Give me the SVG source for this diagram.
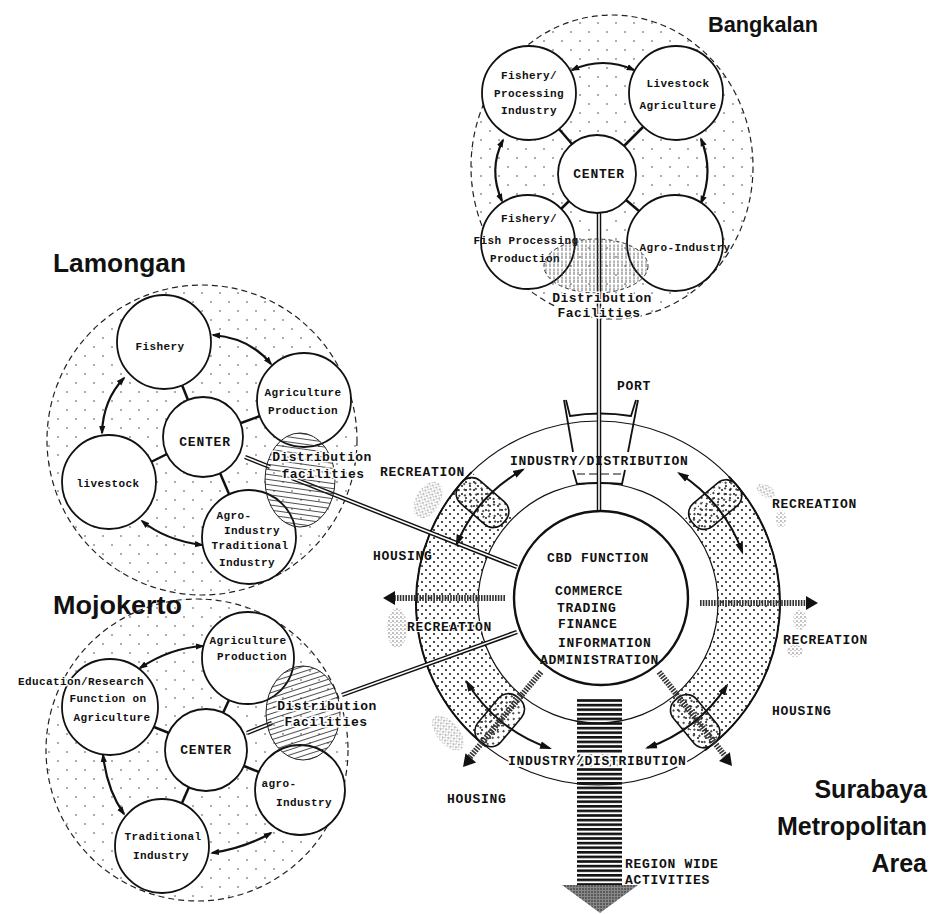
<svg xmlns="http://www.w3.org/2000/svg" width="933" height="914" viewBox="0 0 933 914">
<style>
.t{font-family:"Liberation Mono","DejaVu Sans Mono",monospace;font-size:13px;font-weight:bold;letter-spacing:0.7px;fill:#111}
.n{font-family:"Liberation Mono","DejaVu Sans Mono",monospace;font-size:11px;font-weight:bold;letter-spacing:0.4px;text-anchor:middle;fill:#111}
.c{font-family:"Liberation Mono","DejaVu Sans Mono",monospace;font-size:13px;font-weight:bold;letter-spacing:0.8px;text-anchor:middle;fill:#111}
.d{font-family:"Liberation Mono","DejaVu Sans Mono",monospace;font-size:13px;font-weight:bold;letter-spacing:0.5px;text-anchor:middle;fill:#111;stroke:#fff;stroke-width:3;paint-order:stroke}
.b{font-family:"Liberation Sans",Arial,sans-serif;font-weight:bold;fill:#111}
.node{fill:#fff;stroke:#111;stroke-width:1.8}
.region{stroke:#222;stroke-width:1.2;stroke-dasharray:6 4}
.stub{stroke:#111;stroke-width:2.5;fill:none}
.arc{fill:none;stroke:#111;stroke-width:2.2;marker-start:url(#ah);marker-end:url(#ah)}
.rarr{fill:none;stroke:#111;stroke-width:2;marker-start:url(#ahL);marker-end:url(#ahL)}
.dbl{fill:none;stroke:#111;stroke-width:4.5}
.dbl2{fill:none;stroke:#fff;stroke-width:1.6}
.ring{fill:none;stroke:#111;stroke-width:1.2}
.edge{fill:none;stroke:#111;stroke-width:2}
.pill{fill:url(#stip);stroke:#111;stroke-width:1.6}
.hb{fill:none;stroke:#333;stroke-width:6;stroke-dasharray:1.6 1.2}
.rec{fill:url(#speck)}
.hatch{stroke:#222;stroke-width:1}
</style>
<defs>
<marker id="ah" viewBox="0 0 10 10" refX="8" refY="5" markerWidth="9" markerHeight="9" markerUnits="userSpaceOnUse" orient="auto-start-reverse"><path d="M0,1.5 L10,5 L0,8.5 z" fill="#111"/></marker>
<marker id="ahL" viewBox="0 0 10 10" refX="8" refY="5" markerWidth="12" markerHeight="12" markerUnits="userSpaceOnUse" orient="auto-start-reverse"><path d="M0,1.8 L10,5 L0,8.2 z" fill="#111"/></marker>
<pattern id="dots" width="18" height="18" patternUnits="userSpaceOnUse"><circle cx="4" cy="5" r="0.8" fill="#444"/><circle cx="13" cy="14" r="0.8" fill="#444"/></pattern>
<pattern id="stip" width="8" height="8" patternUnits="userSpaceOnUse"><circle cx="2" cy="2" r="1" fill="#111"/><circle cx="6" cy="6" r="1" fill="#111"/></pattern>
<pattern id="hatchH" width="8" height="5" patternUnits="userSpaceOnUse" patternTransform="rotate(8)"><line x1="0" y1="2.5" x2="8" y2="2.5" stroke="#222" stroke-width="0.8"/></pattern>
<pattern id="hatchM" width="8" height="5" patternUnits="userSpaceOnUse" patternTransform="rotate(-18)"><line x1="0" y1="2.5" x2="8" y2="2.5" stroke="#222" stroke-width="0.8"/></pattern>
<pattern id="hatchV" width="4" height="8" patternUnits="userSpaceOnUse"><line x1="2" y1="0" x2="2" y2="8" stroke="#444" stroke-width="0.8" stroke-dasharray="3 1.5"/></pattern>
<pattern id="speck" width="4" height="4" patternUnits="userSpaceOnUse"><circle cx="1" cy="1" r="0.7" fill="#555"/><circle cx="3" cy="2.6" r="0.6" fill="#888"/></pattern>
<pattern id="stripes" width="8" height="4.6" patternUnits="userSpaceOnUse"><rect width="8" height="2.6" fill="#111"/></pattern>
<pattern id="darkspeck" width="3" height="3" patternUnits="userSpaceOnUse"><rect width="3" height="3" fill="#888"/><circle cx="1" cy="1" r="0.8" fill="#222"/></pattern>
</defs>
<rect width="933" height="914" fill="#fff"/>

<!-- Region backgrounds -->
<g id="bangkalan-region"><ellipse class="region" cx="612" cy="167" rx="141" ry="152" fill="url(#dots)"/></g>
<g id="lamongan-region"><circle class="region" cx="202" cy="440" r="155" fill="url(#dots)"/></g>
<g id="mojokerto-region"><circle class="region" cx="197" cy="750" r="151" fill="url(#dots)"/></g>

<!-- Surabaya ring -->
<g id="surabaya-ring">
<path d="M485.9,746.4 A182,182 0 0 1 471.6,472.1 L514.6,516.7 A120,120 0 0 0 524.1,697.6 Z" fill="url(#stip)"/>
<path d="M728.9,476.6 A182,182 0 0 1 705.0,750.2 L668.5,700.1 A120,120 0 0 0 684.3,519.6 Z" fill="url(#stip)"/>
<circle class="ring" cx="598" cy="603" r="182"/>
<circle class="ring" cx="598" cy="603" r="120"/>
<path class="edge" d="M485.9,746.4 A182,182 0 0 1 471.6,472.1"/>
<path class="edge" d="M728.9,476.6 A182,182 0 0 1 705.0,750.2"/>
<rect class="pill" x="-29" y="-15" width="58" height="30" rx="13" transform="translate(482.5,502.6) rotate(221)"/>
<rect class="pill" x="-29" y="-15" width="58" height="30" rx="13" transform="translate(715.2,504.6) rotate(-40)"/>
<rect class="pill" x="-29" y="-15" width="58" height="30" rx="13" transform="translate(499.7,720.2) rotate(130)"/>
<rect class="pill" x="-29" y="-15" width="58" height="30" rx="13" transform="translate(695.2,721.2) rotate(50.6)"/>
</g>

<!-- Recreation blobs -->
<g id="recreation-areas">
<ellipse class="rec" cx="428" cy="500" rx="12" ry="20" transform="rotate(30 428 500)"/>
<ellipse class="rec" cx="397" cy="628" rx="10" ry="20"/>
<ellipse class="rec" cx="448" cy="733" rx="11" ry="21" transform="rotate(-40 448 733)"/>
<ellipse class="rec" cx="766" cy="491" rx="10" ry="6" transform="rotate(30 766 491)"/>
<ellipse class="rec" cx="781" cy="519" rx="5" ry="9"/>
<ellipse class="rec" cx="800" cy="620" rx="7" ry="10"/>
<ellipse class="rec" cx="795" cy="651" rx="8" ry="6"/>
</g>

<!-- Region wide arrow -->
<g id="region-wide-arrow">
<rect x="577" y="698" width="45" height="187" fill="url(#stripes)"/>
<polygon points="562,885 638,885 600,913" fill="url(#darkspeck)"/>
</g>

<!-- Port -->
<g id="port" fill="none" stroke="#111" stroke-width="1.8">
<path d="M564,400 L573,452"/>
<path d="M638,400 L628,452"/>
<path d="M566,400 L570,416 Q600,411 631,416 L636,400"/>
<path d="M573,470 L577,484 Q600,482 622,484 L625,470"/>
<path d="M577,474 L621,474" stroke-width="1" stroke-dasharray="8 4"/>
</g>

<!-- Connectors -->
<g id="connectors">
<path class="stub" d="M572,144 L559,129"/>
<path class="stub" d="M624,146 L643,127"/>
<path class="stub" d="M569,201 L561,209"/>
<path class="stub" d="M626,200 L639,211"/>
<path class="arc" d="M572,70 Q603,56 634,70"/>
<path class="arc" d="M503,140 Q488,170 502,201"/>
<path class="arc" d="M701,139 Q714,171 701,203"/>
<path class="dbl" d="M599,213 L599,511"/><path class="dbl2" d="M599,213 L599,511"/>
<path class="stub" d="M188,400 L182,385"/>
<path class="stub" d="M241,423 L260,416"/>
<path class="stub" d="M167,454 L151,462"/>
<path class="stub" d="M220,473 L229,494"/>
<path class="arc" d="M213,335 Q250,338 271,364"/>
<path class="arc" d="M124,378 Q103,400 102,433"/>
<path class="arc" d="M142,521 Q165,540 202,545"/>
<path class="dbl" d="M245,457 L270,467"/><path class="dbl2" d="M245,457 L270,467"/>
<path class="dbl" d="M292,478 L517,567"/><path class="dbl2" d="M292,478 L517,567"/>
<path class="stub" d="M223,713 L229,700"/>
<path class="stub" d="M169,733 L154,727"/>
<path class="stub" d="M244,766 L259,772"/>
<path class="stub" d="M189,787 L182,803"/>
<path class="arc" d="M140,668 Q170,648 203,646"/>
<path class="arc" d="M103,755 Q107,790 124,814"/>
<path class="arc" d="M271,833 Q245,848 212,853"/>
<path class="dbl" d="M247,733 L272,723"/><path class="dbl2" d="M247,733 L272,723"/>
<path class="dbl" d="M342,695 L517,632"/><path class="dbl2" d="M342,695 L517,632"/>
<path class="rarr" d="M456.6,544.4 A153,153 0 0 1 522.9,469.7"/>
<path class="rarr" d="M679.1,473.3 A153,153 0 0 1 742.3,552.2"/>
<path class="rarr" d="M549.7,748.2 A153,153 0 0 1 466.8,681.8"/>
<path class="rarr" d="M726.9,685.4 A153,153 0 0 1 647.3,747.8"/>
<path class="hb" d="M505,598 L392,598"/><polygon points="383,598 395,591 395,605" fill="#111"/>
<path class="hb" d="M700,603 L808,603"/><polygon points="818,603 806,596 806,610" fill="#111"/>
<path class="hb" d="M541,672 L470,757"/><polygon points="0,0 -12,-7 -12,7" fill="#111" transform="translate(463,767) rotate(130.6)"/>
<path class="hb" d="M659,672 L725,756"/><polygon points="0,0 -12,-7 -12,7" fill="#111" transform="translate(732,766) rotate(51)"/>
</g>

<!-- Bangkalan nodes -->
<g id="b-fishery-processing"><circle class="node" cx="529" cy="93" r="47"/><text class="n" x="529" y="79">Fishery/</text><text class="n" x="529" y="97">Processing</text><text class="n" x="529" y="114">Industry</text></g>
<g id="b-livestock"><circle class="node" cx="676" cy="93" r="47"/><text class="n" x="678" y="87">Livestock</text><text class="n" x="678" y="109">Agriculture</text></g>
<g id="b-center"><circle class="node" cx="597" cy="174" r="39"/><text class="c" x="599" y="178">CENTER</text></g>
<g id="b-fishery-production"><circle class="node" cx="528" cy="242" r="47"/><text class="n" x="529" y="222">Fishery/</text><text class="n" x="526" y="244" letter-spacing="-0.3">Fish Processing</text><text class="n" x="525" y="262">Production</text></g>
<g id="b-agro"><circle class="node" cx="675" cy="243" r="48"/><text class="n" x="685" y="251">Agro-Industry</text></g>
<g id="b-distribution"><ellipse cx="596" cy="266" rx="52" ry="27" fill="url(#hatchV)" stroke="#333" stroke-width="1" stroke-dasharray="4 3"/><text class="d" x="602" y="302">Distribution</text><text class="d" x="599" y="317" letter-spacing="1.4">Facilities</text></g>

<!-- Lamongan nodes -->
<g id="l-fishery"><circle class="node" cx="164" cy="342" r="47"/><text class="n" x="160" y="350" letter-spacing="1.2">Fishery</text></g>
<g id="l-agriculture"><circle class="node" cx="304" cy="400" r="47"/><text class="n" x="303" y="396">Agriculture</text><text class="n" x="303" y="414">Production</text></g>
<g id="l-center"><circle class="node" cx="203" cy="437" r="40"/><text class="c" x="205" y="446" font-size="14">CENTER</text></g>
<g id="l-livestock"><circle class="node" cx="109" cy="482" r="47"/><text class="n" x="108" y="487">livestock</text></g>
<g id="l-agro"><circle class="node" cx="249" cy="537" r="47"/><text class="n" x="234" y="519">Agro-</text><text class="n" x="252" y="534">Industry</text><text class="n" x="250" y="549">Traditional</text><text class="n" x="247" y="566">Industry</text></g>
<g id="l-distribution"><ellipse cx="300" cy="480" rx="35" ry="47" fill="url(#hatchH)" class="hatch"/><text class="d" x="322" y="461">Distribution</text><text class="d" x="323" y="478">facilities</text></g>

<!-- Mojokerto nodes -->
<g id="m-agriculture"><circle class="node" cx="248" cy="658" r="46"/><text class="n" x="248" y="644">Agriculture</text><text class="n" x="252" y="660">Production</text></g>
<g id="m-education"><circle class="node" cx="110" cy="707" r="48"/><text class="n" x="81" y="685" stroke="#fff" stroke-width="2.5" paint-order="stroke">Education/Research</text><text class="n" x="108" y="702">Function on</text><text class="n" x="112" y="721">Agriculture</text></g>
<g id="m-center"><circle class="node" cx="206" cy="750" r="41"/><text class="c" x="206" y="754">CENTER</text></g>
<g id="m-agro"><circle class="node" cx="300" cy="790" r="45"/><text class="n" x="279" y="787">agro-</text><text class="n" x="304" y="806">Industry</text></g>
<g id="m-traditional"><circle class="node" cx="162" cy="846" r="47"/><text class="n" x="163" y="840">Traditional</text><text class="n" x="161" y="859">Industry</text></g>
<g id="m-distribution"><ellipse cx="303" cy="713" rx="37" ry="47" fill="url(#hatchM)" class="hatch"/><text class="d" x="327" y="710">Distribution</text><text class="d" x="326" y="726">Facilities</text></g>

<!-- Surabaya CBD -->
<g id="s-cbd">
<circle cx="601" cy="598" r="87" fill="#fff" stroke="#111" stroke-width="2.4"/>
<text class="t" x="547" y="562">CBD FUNCTION</text>
<text class="t" x="555" y="595">COMMERCE</text>
<text class="t" x="557" y="612">TRADING</text>
<text class="t" x="558" y="628">FINANCE</text>
<text class="t" x="558" y="647">INFORMATION</text>
<text class="t" x="540" y="664">ADMINISTRATION</text>
</g>

<!-- Surabaya labels -->
<g id="s-labels">
<text class="t" x="617" y="390">PORT</text>
<text class="t" x="380" y="476">RECREATION</text>
<text class="t" x="510" y="465">INDUSTRY/DISTRIBUTION</text>
<text class="t" x="772" y="508">RECREATION</text>
<text class="t" x="373" y="560">HOUSING</text>
<text class="t" x="407" y="631" stroke="#fff" stroke-width="2" paint-order="stroke">RECREATION</text>
<text class="t" x="783" y="644">RECREATION</text>
<text class="t" x="772" y="715">HOUSING</text>
<text class="t" x="508" y="765" stroke="#fff" stroke-width="4" paint-order="stroke">INDUSTRY/DISTRIBUTION</text>
<text class="t" x="447" y="803">HOUSING</text>
<text class="t" x="625" y="868" font-size="12">REGION WIDE</text>
<text class="t" x="625" y="884" font-size="12">ACTIVITIES</text>
</g>

<!-- Area titles -->
<g id="titles">
<text class="b" x="708" y="32" font-size="22" textLength="110" lengthAdjust="spacingAndGlyphs">Bangkalan</text>
<text class="b" x="53" y="272" font-size="26" textLength="133" lengthAdjust="spacingAndGlyphs">Lamongan</text>
<text class="b" x="53" y="614" font-size="26" textLength="129" lengthAdjust="spacingAndGlyphs">Mojokerto</text>
<text class="b" x="927" y="798" font-size="25" text-anchor="end">Surabaya</text>
<text class="b" x="927" y="835" font-size="25" text-anchor="end">Metropolitan</text>
<text class="b" x="927" y="872" font-size="25" text-anchor="end">Area</text>
</g>
</svg>
